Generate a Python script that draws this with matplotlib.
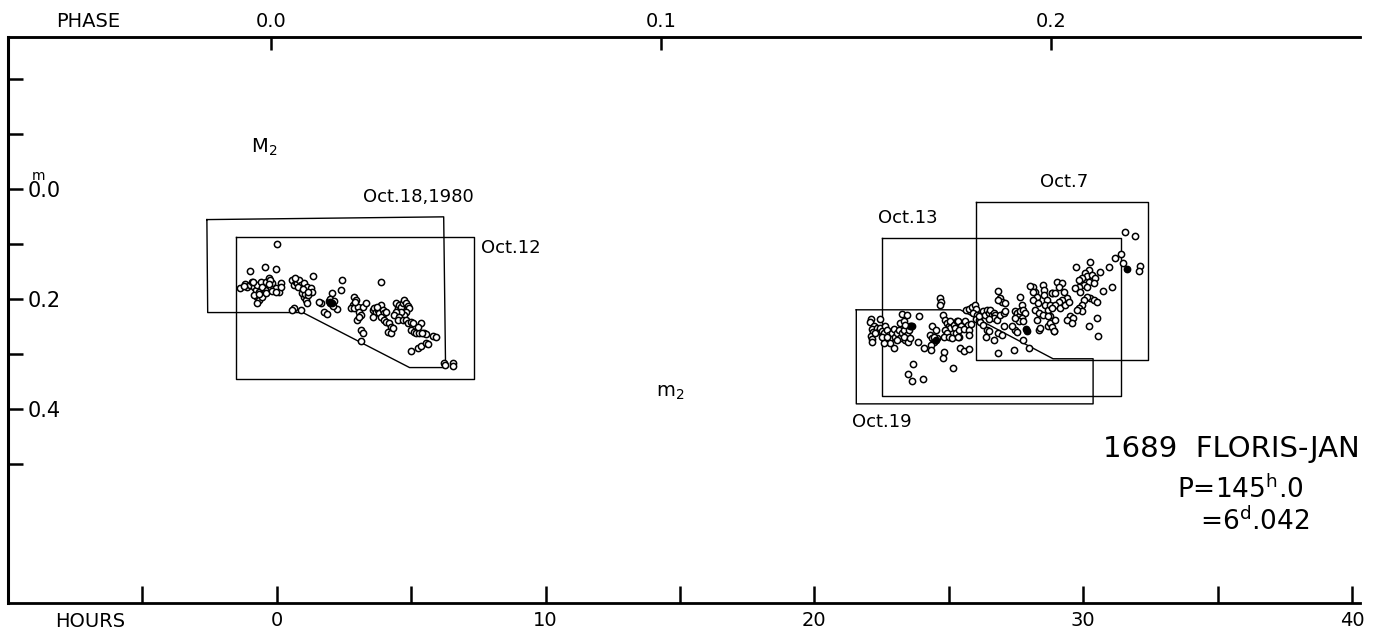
import matplotlib.pyplot as plt

plt.rcParams['font.family'] = ['DejaVu Sans']

# observations, hours from M2 and magnitude
hours_left = [-1.38, -1.19, -1.12, -1.00, -0.93, -0.86, -0.78, -0.74, -0.67, -0.59,
              -0.56, -0.48, -0.41, -0.37, -0.30, -0.30, -0.22, -0.19, -0.04, 0.07,
              0.15, -0.74, -0.67, -0.59, -0.56, -0.74, -0.41, -0.19, -0.04, -0.86,
              -1.00, -0.45, -0.04, 0.00, -1.23, -0.89, -0.67, -0.26, 0.15, -0.30,
              0.56, 0.63, 0.71, 0.74, 0.82, 0.89, 0.93, 1.00, 1.08, 1.12,
              1.19, 1.26, 1.30, 1.00, 1.08, 1.12, 0.93, 1.34, 0.63, 0.56,
              0.89, 0.78, 0.67, 1.04, 0.97, 1.15, 1.15,
              1.64, 1.75, 1.86, 2.04, 2.38, 2.42, 2.23, 1.93, 1.97, 2.01,
              2.04, 1.97, 2.08, 2.12, 1.56,
              2.86, 2.94, 2.83, 2.75, 2.86, 3.01, 3.05, 3.20, 3.12, 2.97,
              3.12, 3.20, 3.12, 3.31, 2.90, 3.05,
              3.57, 3.61, 3.68, 3.75, 3.79, 3.87, 3.94, 3.98, 4.05, 3.87,
              3.98, 4.05, 4.16, 4.24, 4.13, 3.57, 3.87, 4.24, 4.31, 3.72,
              4.42, 4.50, 4.54, 4.61, 4.68, 4.72, 4.80, 4.87, 4.91, 4.80,
              4.72, 4.61, 4.42, 4.35, 4.54, 4.50, 4.68, 4.80, 4.87, 4.98,
              5.06, 4.98, 5.09, 5.17, 5.28, 5.46, 5.35, 5.24, 5.54, 5.39,
              4.98, 5.24, 5.35, 5.54, 5.61, 5.80, 5.91,
              6.21, 6.25, 6.54, 6.54]
mag_left = [0.180, 0.173, 0.178, 0.175, 0.169, 0.178, 0.184, 0.175, 0.187, 0.169,
            0.178, 0.189, 0.169, 0.184, 0.162, 0.175, 0.180, 0.171, 0.180, 0.187,
            0.171, 0.196, 0.202, 0.193, 0.196, 0.207, 0.189, 0.185, 0.187, 0.193,
            0.149, 0.142, 0.145, 0.100, 0.177, 0.169, 0.191, 0.166, 0.178, 0.173,
            0.165, 0.175, 0.169, 0.171, 0.165, 0.175, 0.180, 0.171, 0.184, 0.178,
            0.189, 0.180, 0.187, 0.196, 0.202, 0.207, 0.189, 0.158, 0.216, 0.220,
            0.220, 0.178, 0.162, 0.191, 0.182, 0.193, 0.187,
            0.207, 0.224, 0.227, 0.189, 0.184, 0.165, 0.218, 0.204, 0.207, 0.204,
            0.209, 0.200, 0.213, 0.204, 0.205,
            0.196, 0.202, 0.211, 0.216, 0.216, 0.215, 0.224, 0.215, 0.229, 0.238,
            0.256, 0.262, 0.276, 0.207, 0.205, 0.233,
            0.220, 0.216, 0.224, 0.220, 0.225, 0.211, 0.220, 0.225, 0.224, 0.233,
            0.238, 0.242, 0.244, 0.251, 0.260, 0.233, 0.169, 0.262, 0.253, 0.215,
            0.207, 0.216, 0.211, 0.215, 0.207, 0.202, 0.207, 0.213, 0.216, 0.224,
            0.229, 0.224, 0.224, 0.229, 0.233, 0.238, 0.238, 0.238, 0.244, 0.242,
            0.244, 0.256, 0.260, 0.262, 0.262, 0.262, 0.244, 0.251, 0.264, 0.262,
            0.295, 0.289, 0.285, 0.280, 0.282, 0.267, 0.269,
            0.316, 0.320, 0.316, 0.322]

hours_right = [22.11, 22.06, 22.21, 22.15, 22.18, 22.12, 22.15, 22.15, 22.33, 22.39,
               22.46, 22.46, 22.52, 22.58, 22.64, 22.70, 22.77, 22.73, 22.64, 22.83,
               22.89, 22.95, 23.01, 23.08, 23.14, 23.20, 23.26, 23.32, 23.39, 23.45,
               23.51, 23.55, 23.47, 22.95, 22.83, 22.58, 23.26, 23.45, 23.20, 23.32,
               23.39, 23.63, 23.88, 23.86, 24.09, 24.32, 24.38, 24.44, 24.50, 24.56,
               24.34, 24.34, 24.38, 24.54, 24.79, 24.85, 24.94, 25.00, 25.06, 24.87,
               24.94, 24.81, 25.00, 25.12, 25.06, 25.18, 25.25, 25.31, 25.28, 25.37,
               24.81, 24.77, 25.15, 23.67, 23.48, 23.63, 24.04, 24.66, 24.71, 24.66,
               22.27, 22.52, 22.70, 23.08, 23.32, 23.57, 24.44,
               25.34, 25.46, 25.59, 25.71, 25.39, 25.55, 25.74, 25.84, 25.34, 25.74,
               25.43, 25.55, 25.77, 25.64, 25.76, 25.88, 25.96, 26.01, 25.92, 26.05,
               26.01, 26.11, 26.17, 26.13, 26.29, 26.36, 26.42, 26.48, 26.54, 26.60,
               26.67, 26.73, 26.70, 26.79, 26.91, 27.04, 27.10, 26.48, 26.29, 26.42,
               26.48, 26.38, 26.67, 26.85, 26.98, 27.04, 26.83, 27.41, 27.99, 27.78,
               26.85, 26.91, 26.98, 27.10, 26.85,
               27.45, 27.53, 27.60, 27.66, 27.72, 27.66, 27.78, 27.84, 27.72, 27.60,
               27.78, 27.47, 27.53, 27.45, 27.35,
               28.12, 28.19, 28.28, 28.15, 28.32, 28.22, 28.34, 28.28, 28.34, 28.40,
               28.49, 28.56, 28.53, 28.65, 28.59, 28.71, 28.49, 28.77, 28.84, 28.84,
               28.71, 28.90, 28.77, 28.03, 28.15,
               31.57, 31.94, 31.42, 31.19, 31.50, 32.12, 32.06, 30.97, 31.07, 30.72,
               30.64, 30.26, 29.73, 30.20, 30.08, 30.14, 30.33, 30.45, 29.95, 29.83,
               30.20, 30.39, 30.02, 29.83, 30.14, 29.71, 29.89, 30.26, 30.39, 30.51,
               30.14, 30.02, 29.95, 29.83, 29.95, 29.77, 30.51, 30.23, 30.55,
               29.02, 29.21, 29.09, 29.27, 28.84, 28.96, 29.40, 29.21, 29.09, 28.96,
               28.84, 29.15, 29.33, 29.46, 29.52, 29.64, 29.40, 29.58, 28.78, 28.84,
               28.90, 28.96, 28.71]
mag_right = [0.237, 0.243, 0.249, 0.255, 0.261, 0.267, 0.273, 0.279, 0.253, 0.259,
             0.237, 0.253, 0.259, 0.262, 0.250, 0.256, 0.265, 0.275, 0.278, 0.272,
             0.262, 0.255, 0.269, 0.262, 0.256, 0.272, 0.262, 0.256, 0.275, 0.265,
             0.256, 0.250, 0.278, 0.290, 0.281, 0.281, 0.228, 0.229, 0.244, 0.241,
             0.247, 0.249, 0.232, 0.278, 0.289, 0.265, 0.272, 0.278, 0.275, 0.272,
             0.284, 0.293, 0.250, 0.256, 0.229, 0.238, 0.244, 0.250, 0.253, 0.256,
             0.262, 0.269, 0.269, 0.272, 0.241, 0.247, 0.253, 0.241, 0.262, 0.269,
             0.296, 0.308, 0.325, 0.319, 0.336, 0.350, 0.345, 0.199, 0.205, 0.212,
             0.262, 0.269, 0.269, 0.275, 0.269, 0.272, 0.269,
             0.241, 0.249, 0.241, 0.247, 0.256, 0.255, 0.256, 0.245, 0.270, 0.265,
             0.290, 0.294, 0.291, 0.220, 0.219, 0.215, 0.211, 0.219, 0.226, 0.229,
             0.237, 0.239, 0.243, 0.232, 0.223, 0.229, 0.220, 0.226, 0.221, 0.229,
             0.225, 0.229, 0.235, 0.238, 0.229, 0.225, 0.223, 0.237, 0.247, 0.256,
             0.259, 0.270, 0.275, 0.262, 0.265, 0.250, 0.299, 0.293, 0.290, 0.275,
             0.185, 0.199, 0.205, 0.208, 0.202,
             0.223, 0.226, 0.232, 0.223, 0.211, 0.196, 0.220, 0.226, 0.235, 0.241,
             0.241, 0.256, 0.261, 0.235, 0.250,
             0.178, 0.187, 0.196, 0.202, 0.208, 0.220, 0.226, 0.238, 0.256, 0.253,
             0.175, 0.184, 0.193, 0.202, 0.211, 0.220, 0.229, 0.232, 0.190, 0.241,
             0.250, 0.259, 0.211, 0.177, 0.187,
             0.079, 0.086, 0.118, 0.125, 0.135, 0.141, 0.149, 0.142, 0.178, 0.185,
             0.152, 0.133, 0.143, 0.147, 0.153, 0.159, 0.156, 0.162, 0.162, 0.165,
             0.169, 0.172, 0.175, 0.178, 0.178, 0.181, 0.187, 0.199, 0.202, 0.205,
             0.197, 0.202, 0.211, 0.217, 0.223, 0.220, 0.235, 0.249, 0.267,
             0.169, 0.172, 0.178, 0.187, 0.190, 0.190, 0.199, 0.202, 0.205, 0.211,
             0.217, 0.217, 0.211, 0.205, 0.232, 0.235, 0.238, 0.244, 0.244, 0.252,
             0.259, 0.238, 0.232]

# blackened (overlapping) points
hours_filled = [1.97, 2.04, 23.61, 24.53, 27.87, 27.91, 31.63]
mag_filled = [0.205, 0.207, 0.249, 0.275, 0.255, 0.258, 0.146]

# nights covered by the observations
oct18_h = [-2.60, 6.21, 6.28, 4.94, 0.97, -2.57, -2.60]
oct18_m = [0.056, 0.051, 0.325, 0.325, 0.225, 0.225, 0.056]
oct12_h = [-1.52, 7.32, 7.32, -1.52, -1.52]
oct12_m = [0.087, 0.087, 0.345, 0.345, 0.087]
oct7_h = [26.0, 32.4, 32.4, 26.0, 26.0]
oct7_m = [0.024, 0.024, 0.311, 0.311, 0.024]
oct13_h = [22.5, 31.4, 31.4, 22.5, 22.5]
oct13_m = [0.089, 0.089, 0.376, 0.376, 0.089]
oct19_h = [21.56, 25.43, 28.88, 30.37, 30.37, 21.56, 21.56]
oct19_m = [0.220, 0.220, 0.309, 0.309, 0.391, 0.391, 0.220]

period_h = 145.0
phase_shift = 0.2

fig = plt.figure(figsize=(13.75, 6.32), dpi=100)
ax = fig.add_axes([0.0058, 0.0459, 0.9833, 0.8956])

for bh, bm in [(oct18_h, oct18_m), (oct12_h, oct12_m), (oct7_h, oct7_m),
               (oct13_h, oct13_m), (oct19_h, oct19_m)]:
    ax.plot(bh, bm, color='black', lw=1.0)

ax.plot(hours_left, mag_left, 'o', ms=4.5, mfc='white', mec='black', mew=1.1)
ax.plot(hours_right, mag_right, 'o', ms=4.5, mfc='white', mec='black', mew=1.1)
ax.plot(hours_filled, mag_filled, 'o', ms=4.5, mfc='black', mec='black', mew=1.1)

ax.set_xlim(-10, 40.3)
ax.set_ylim(0.753, -0.276)

ax.spines['right'].set_visible(False)
ax.spines['left'].set_linewidth(2.2)
ax.spines['bottom'].set_linewidth(2.0)
ax.spines['top'].set_linewidth(1.8)

ax.set_xticks(range(-5, 41, 5))
ax.set_xticklabels(['', '0', '', '10', '', '20', '', '30', '', '40'])
ax.tick_params(axis='x', direction='in', length=12, width=1.8, labelsize=14, pad=6)

ax.set_yticks([-0.2, -0.1, 0.0, 0.1, 0.2, 0.3, 0.4, 0.5])
ax.set_yticklabels(['', '', '0.0', '', '0.2', '', '0.4', ''])
ax.tick_params(axis='y', direction='in', length=11, width=1.8, labelsize=15, pad=-14)
for lbl in ax.get_yticklabels():
    lbl.set_horizontalalignment('left')

ax.text(-8.85, -0.024, 'm', fontsize=10, ha='center', va='center')

sec = ax.secondary_xaxis('top', functions=(lambda h: (h + phase_shift) / period_h,
                                           lambda p: p * period_h - phase_shift))
sec.set_xticks([0.0, 0.1, 0.2])
sec.set_xticklabels(['0.0', '0.1', '0.2'])
sec.tick_params(direction='in', length=9, width=1.8, labelsize=14, pad=4)
sec.spines['top'].set_linewidth(1.8)

ax.text(-7.0, 1.027, 'PHASE', transform=ax.get_xaxis_transform(),
        fontsize=14, ha='center', va='center')
ax.text(-6.95, -0.032, 'HOURS', transform=ax.get_xaxis_transform(),
        fontsize=14, ha='center', va='center')

ax.text(3.2, 0.015, 'Oct.18,1980', fontsize=13, va='center')
ax.text(7.58, 0.107, 'Oct.12', fontsize=13, va='center')
ax.text(28.4, -0.013, 'Oct.7', fontsize=13, va='center')
ax.text(22.38, 0.053, 'Oct.13', fontsize=13, va='center')
ax.text(21.41, 0.424, 'Oct.19', fontsize=13, va='center')
ax.text(-0.97, -0.075, r'$\mathregular{M_2}$', fontsize=14, va='center')
ax.text(14.1, 0.371, r'$\mathregular{m_2}$', fontsize=14, va='center')

ax.text(40.3, 0.473, '1689  FLORIS-JAN', fontsize=21, ha='right', va='center')
ax.text(33.5, 0.547, r'P=145$^{\mathregular{h}}$.0', fontsize=19, va='center')
ax.text(34.35, 0.605, r'=6$^{\mathregular{d}}$.042', fontsize=19, va='center')

plt.savefig('out.png')
plt.close()
